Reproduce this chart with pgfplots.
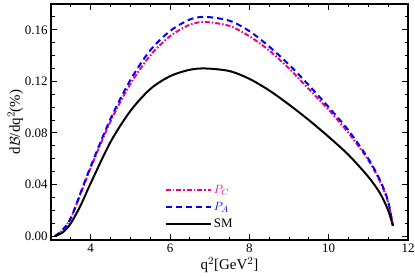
\documentclass[border=0pt]{standalone}
\usepackage{fontspec}
\setmainfont{Liberation Serif}
\usepackage{pgfplots}
\pgfplotsset{compat=1.18}
\usepackage{pgfplotstable}
\usetikzlibrary{calc}
\pgfplotstableread{
q v
3.10 0.000
3.30 0.003
3.50 0.010
3.75 0.024
4.00 0.041
4.50 0.073
5.00 0.097
5.50 0.114
6.00 0.124
6.50 0.129
6.90 0.130
7.50 0.128
8.00 0.122
8.50 0.113
9.00 0.102
9.50 0.090
10.00 0.077
10.50 0.063
11.00 0.046
11.30 0.033
11.50 0.020
11.62 0.008
}\sm
\pgfplotstableread{
q v
3.10 0.000
3.30 0.005
3.50 0.014
3.75 0.034
4.00 0.054
4.50 0.091
5.00 0.121
5.50 0.144
6.00 0.159
6.50 0.168
6.90 0.170
7.50 0.167
8.00 0.159
8.50 0.147
9.00 0.133
9.50 0.117
10.00 0.100
10.50 0.082
11.00 0.060
11.30 0.043
11.50 0.027
11.62 0.008
}\pa
\pgfplotstableread{
q v
3.10 0.000
3.30 0.005
3.50 0.014
3.75 0.033
4.00 0.053
4.50 0.089
5.00 0.118
5.50 0.140
6.00 0.155
6.50 0.164
6.90 0.166
7.50 0.163
8.00 0.155
8.50 0.144
9.00 0.130
9.50 0.114
10.00 0.098
10.50 0.080
11.00 0.059
11.30 0.042
11.50 0.026
11.62 0.008
}\pc
\begin{document}
\begin{tikzpicture}
\begin{axis}[
  name=ax,
  scale only axis,
  width=357bp, height=236bp,
  xmin=3, xmax=12, ymin=-0.003, ymax=0.18,
  xtick={4,6,8,10,12},
  ytick={0,0.04,0.08,0.12,0.16},
  minor x tick num=3,
  minor y tick num=3,
  every tick/.style={black, line width=1pt},
  major tick length=6bp, minor tick length=3.5bp,
  /pgf/number format/assume math mode=true,
  yticklabel style={/pgf/number format/fixed, /pgf/number format/fixed zerofill, /pgf/number format/precision=2},
  tick label style={font=\fontsize{13}{15}\selectfont},
  scaled y ticks=false,
  xlabel={q$^2$[GeV$^2$]},
  ylabel={d$\mathcal{B}$/dq$^2$(\%)},
  label style={font=\fontsize{15}{17}\selectfont},
  xlabel style={yshift=2pt},
  ylabel style={yshift=-5pt},
  legend style={at={(0.31,0.03)}, anchor=south west, draw=none, fill=none, font=\fontsize{13}{15}\selectfont, row sep=3pt},
  legend cell align=left,
  legend image code/.code={\draw[#1] (0bp,0bp) -- (45bp,0bp);},
]
\addplot[magenta, line width=2pt, dash pattern=on 5pt off 2pt on 1.5pt off 2pt, smooth] table[x=q,y=v] {\pc};
\addlegendentry{\textcolor{magenta}{$P_C$}}
\addplot[blue, line width=2pt, dash pattern=on 6pt off 4pt, smooth] table[x=q,y=v] {\pa};
\addlegendentry{\textcolor{blue}{$P_A$}}
\addplot[black, line width=2pt, smooth] table[x=q,y=v] {\sm};
\addlegendentry{SM}
\end{axis}
\draw[line width=1.2pt] (ax.south west) rectangle (ax.north east);
% tick marks on all four sides
\foreach \q in {4,6,8,10,12} {
  \pgfmathsetmacro\f{(\q-3)/9}
  \draw[line width=1pt] ($(ax.south west)!\f!(ax.south east)$) -- ++(0,6bp);
  \draw[line width=1pt] ($(ax.north west)!\f!(ax.north east)$) -- ++(0,-6bp);
}
\foreach \q in {3.5,4.5,5,5.5,6.5,7,7.5,8.5,9,9.5,10.5,11,11.5} {
  \pgfmathsetmacro\f{(\q-3)/9}
  \draw[line width=0.8pt] ($(ax.south west)!\f!(ax.south east)$) -- ++(0,3.5bp);
  \draw[line width=0.8pt] ($(ax.north west)!\f!(ax.north east)$) -- ++(0,-3.5bp);
}
\foreach \v in {0,0.04,0.08,0.12,0.16} {
  \pgfmathsetmacro\f{(\v+0.003)/0.183}
  \draw[line width=1pt] ($(ax.south west)!\f!(ax.north west)$) -- ++(6bp,0);
  \draw[line width=1pt] ($(ax.south east)!\f!(ax.north east)$) -- ++(-6bp,0);
}
\foreach \v in {0.01,0.02,0.03,0.05,0.06,0.07,0.09,0.10,0.11,0.13,0.14,0.15,0.17} {
  \pgfmathsetmacro\f{(\v+0.003)/0.183}
  \draw[line width=0.8pt] ($(ax.south west)!\f!(ax.north west)$) -- ++(3.5bp,0);
  \draw[line width=0.8pt] ($(ax.south east)!\f!(ax.north east)$) -- ++(-3.5bp,0);
}
\pgfresetboundingbox
\path[use as bounding box] ([shift={(-51bp,-37bp)}]ax.south west) rectangle ([shift={(7bp,4bp)}]ax.north east);
\end{tikzpicture}
\end{document}
